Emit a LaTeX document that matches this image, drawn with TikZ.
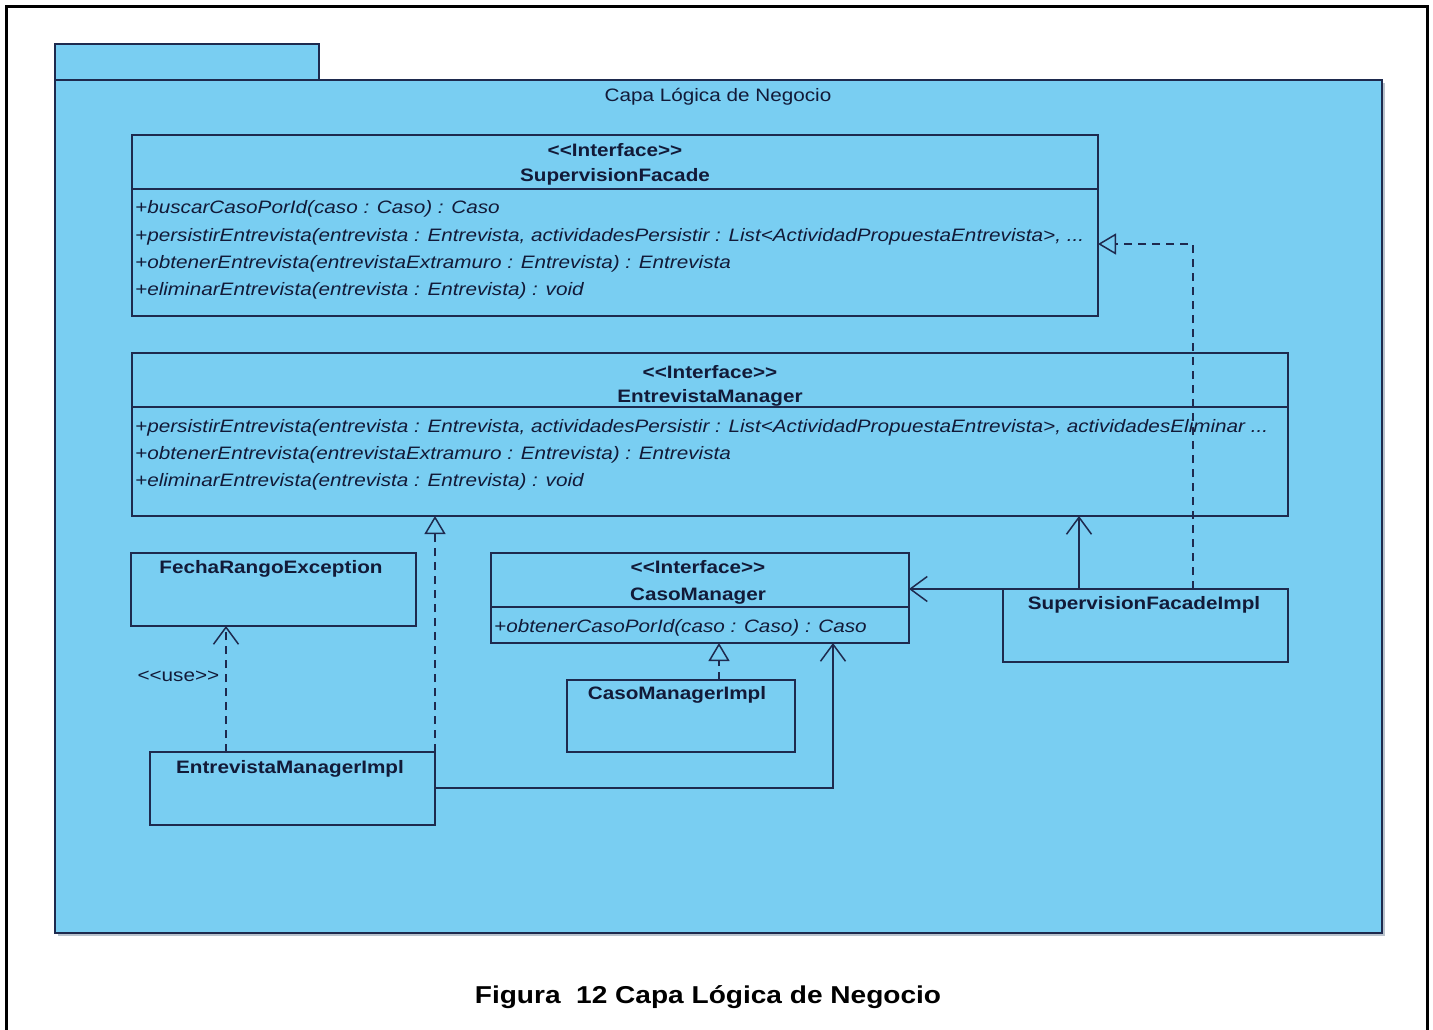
\documentclass[tikz,border=0pt]{standalone}
\usepackage{fontspec}
\setmainfont{Liberation Sans}
\newfontfamily\umlfont[FakeStretch=1.15]{Liberation Sans}
\usetikzlibrary{arrows.meta}
\definecolor{pkgfill}{RGB}{121,206,242}
\definecolor{pkgshadow}{RGB}{185,195,205}
\definecolor{inkline}{RGB}{30,42,78}
\definecolor{inktext}{RGB}{18,26,56}

\tikzset{
  umlbox/.style={draw=inkline, line width=1.6pt, fill=pkgfill, anchor=north west,
                 inner sep=0pt, outer sep=0pt},
  divline/.style={draw=inkline, line width=1.6pt},
  umltitle/.style={font=\umlfont\bfseries\fontsize{18}{20}\selectfont, text=inktext,
                   anchor=base, inner sep=0pt},
  umlop/.style={font=\umlfont\itshape\fontsize{18}{20}\selectfont, text=inktext,
                anchor=base west, inner sep=0pt},
  umllabel/.style={font=\umlfont\fontsize{18}{20}\selectfont, text=inktext, inner sep=0pt},
  assoc/.style={draw=inkline, line width=1.5pt, -{Straight Barb[length=17pt,width=25pt]}},
  depend/.style={assoc, dash pattern=on 8pt off 6pt},
  realize/.style={draw=inkline, line width=1.5pt, dash pattern=on 8pt off 6pt,
                  -{Triangle[open, length=18pt, width=21pt, fill=pkgfill]}},
}

\begin{document}
\begin{tikzpicture}[x=1pt, y=-1pt]
\useasboundingbox (0,0) rectangle (1433,1030);

% page frame
\draw[line width=3pt] (6,1032) -- (6,7) -- (1427,7) -- (1427,1032);

% package: shadow, tab and body
\fill[pkgshadow] (58,83) rectangle (1385,936);
\draw[draw=inkline, line width=1.6pt, fill=pkgfill] (55,44) rectangle (319,80);
\node[umlbox, minimum width=1327pt, minimum height=853pt] (pkg) at (55,80) {};
\node[umllabel, anchor=base] (pkgname) at (718,102) {Capa Lógica de Negocio};

% SupervisionFacade
\node[umlbox, minimum width=966pt, minimum height=181pt] (sf) at (132,135) {};
\draw[divline] ([yshift=-54pt]sf.north west) -- ([yshift=-54pt]sf.north east);
\node[umltitle] (sfst) at (615,157) {<<Interface>>};
\node[umltitle] (sfname) at (615,182) {SupervisionFacade};
\node[umlop] (sfop1) at (135,214) {+buscarCasoPorId(caso : Caso) : Caso};
\node[umlop] (sfop2) at (135,241) {+persistirEntrevista(entrevista : Entrevista, actividadesPersistir : List<ActividadPropuestaEntrevista>, ...};
\node[umlop] (sfop3) at (135,268) {+obtenerEntrevista(entrevistaExtramuro : Entrevista) : Entrevista};
\node[umlop] (sfop4) at (135,295) {+eliminarEntrevista(entrevista : Entrevista) : void};

% EntrevistaManager
\node[umlbox, minimum width=1156pt, minimum height=163pt] (em) at (132,353) {};
\draw[divline] ([yshift=-54pt]em.north west) -- ([yshift=-54pt]em.north east);
\node[umltitle] (emst) at (710,378) {<<Interface>>};
\node[umltitle] (emname) at (710,402) {EntrevistaManager};
\begin{scope}
  \clip (em.north west) rectangle (em.south east);
  \node[umlop] (emop1) at (135,432) {+persistirEntrevista(entrevista : Entrevista, actividadesPersistir : List<ActividadPropuestaEntrevista>, actividadesEliminar ...};
\end{scope}
\node[umlop] (emop2) at (135,459) {+obtenerEntrevista(entrevistaExtramuro : Entrevista) : Entrevista};
\node[umlop] (emop3) at (135,486) {+eliminarEntrevista(entrevista : Entrevista) : void};

% FechaRangoException
\node[umlbox, minimum width=285pt, minimum height=73pt] (fre) at (131,553) {};
\node[umltitle] (frename) at (271,573) {FechaRangoException};

% CasoManager
\node[umlbox, minimum width=418pt, minimum height=90pt] (cm) at (491,553) {};
\draw[divline] ([yshift=-54pt]cm.north west) -- ([yshift=-54pt]cm.north east);
\node[umltitle] (cmst) at (698,573) {<<Interface>>};
\node[umltitle] (cmname) at (698,600) {CasoManager};
\node[umlop] (cmop1) at (494,632) {+obtenerCasoPorId(caso : Caso) : Caso};

% CasoManagerImpl
\node[umlbox, minimum width=228pt, minimum height=72pt] (cmi) at (567,680) {};
\node[umltitle] (cminame) at (677,699) {CasoManagerImpl};

% EntrevistaManagerImpl
\node[umlbox, minimum width=285pt, minimum height=73pt] (emi) at (150,752) {};
\node[umltitle] (eminame) at (290,773) {EntrevistaManagerImpl};

% SupervisionFacadeImpl
\node[umlbox, minimum width=285pt, minimum height=73pt] (sfi) at (1003,589) {};
\node[umltitle] (sfiname) at (1144,609) {SupervisionFacadeImpl};

% realizations
\draw[realize] ([xshift=190pt]sfi.north west) |- ([yshift=-109pt]sf.north east);
\draw[realize] (emi.north east) -- (emi.north east |- em.south);
\draw[realize] ([xshift=152pt]cmi.north west) -- ([xshift=228pt]cm.south west);

% dependency
\draw[depend] ([xshift=76pt]emi.north west) --
  node[umllabel, pos=0.56, anchor=base east, xshift=-6pt] (uselbl) {<<use>>}
  ([xshift=95pt]fre.south west);

% associations
\draw[assoc] ([xshift=76pt]sfi.north west) -- ([xshift=76pt]sfi.north west |- em.south);
\draw[assoc] (sfi.north west) -- (sfi.north west -| cm.east);
\draw[assoc] ([yshift=-36pt]emi.north east) -| ([xshift=342pt]cm.south west);

% caption
\node[font=\umlfont\bfseries\fontsize{24.4}{26}\selectfont, anchor=base] (caption)
  at (708,1003) {Figura\ \ 12 Capa Lógica de Negocio};
\end{tikzpicture}
\end{document}
